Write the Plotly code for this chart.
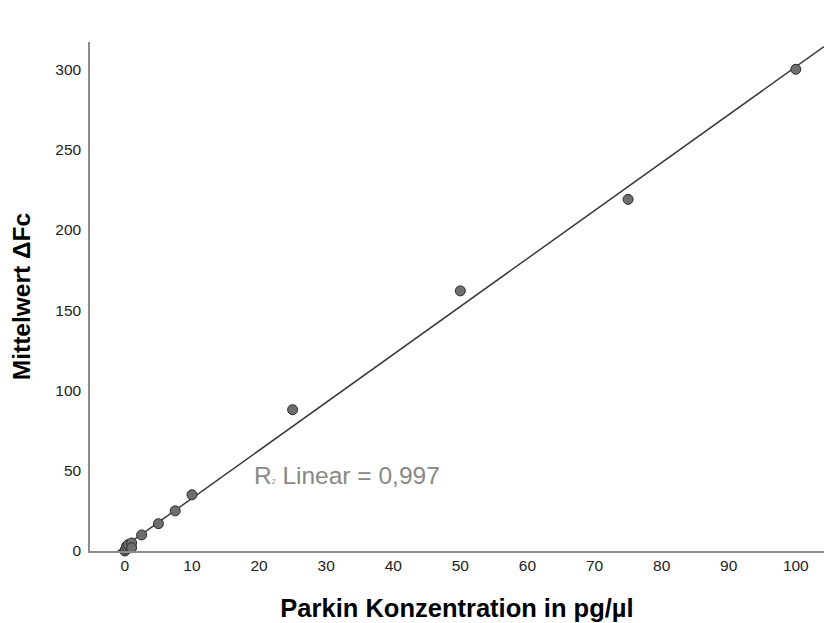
import numpy as np
import plotly.graph_objects as go

# Parkin concentration (pg/µl) and mean ΔFc
konzentration = [0, 0.1, 0.25, 0.5, 1, 1, 2.5, 5, 7.5, 10, 25, 50, 75, 100]
delta_fc = [0, 1, 3, 4, 5, 2, 10, 17, 25, 35, 88, 162, 219, 300]
x_ticks = [0, 10, 20, 30, 40, 50, 60, 70, 80, 90, 100]
y_ticks = [0, 50, 100, 150, 200, 250, 300]
r2_label = "0,997"

x_range = [-5.2, 104.2]
y_range = [0, 317]

# least-squares linear fit across the full x range
slope, intercept = np.polyfit(konzentration, delta_fc, 1)
fit_x = np.array(x_range)
fit_y = slope * fit_x + intercept

fig = go.Figure()
fig.add_trace(go.Scatter(
    x=fit_x, y=fit_y, mode="lines",
    line=dict(color="#3a3a3a", width=1.5),
    hoverinfo="skip", showlegend=False,
))
fig.add_trace(go.Scatter(
    x=konzentration, y=delta_fc, mode="markers",
    marker=dict(size=10, color="#6e6e6e", line=dict(color="#2b2b2b", width=1)),
    cliponaxis=False, showlegend=False,
))

fig.add_annotation(
    x=19, y=47, xref="x", yref="y", xanchor="left", yanchor="middle",
    text="R<span style='font-size:7px'>2</span> Linear = " + r2_label,
    showarrow=False,
    font=dict(family="Liberation Sans, Arial, sans-serif", size=24.5, color="#888888"),
)

axis_font = dict(family="Liberation Sans, Arial, sans-serif", size=15.5, color="#222222")
x_title_font = dict(family="Liberation Sans, Arial, sans-serif", size=25.5, color="#000000")
y_title_font = dict(family="Liberation Sans, Arial, sans-serif", size=24.5, color="#000000")

fig.update_layout(
    width=824, height=623,
    margin=dict(l=90, r=0, t=42, b=72),
    paper_bgcolor="white", plot_bgcolor="white",
    xaxis=dict(
        range=x_range, tickvals=x_ticks, showgrid=False, zeroline=False,
        showline=True, linecolor="#8c8c8c", linewidth=1.5,
        ticks="", tickfont=axis_font,
        title=dict(text="<b>Parkin Konzentration in pg/µl</b>", font=x_title_font, standoff=26),
    ),
    yaxis=dict(
        range=y_range, tickvals=y_ticks, showgrid=False, zeroline=False,
        showline=True, linecolor="#8c8c8c", linewidth=1.5,
        ticks="", tickfont=axis_font, ticklabelstandoff=4,
        title=dict(text="<b>Mittelwert ΔFc</b>", font=y_title_font, standoff=18),
    ),
)

fig.write_html("out.html")
